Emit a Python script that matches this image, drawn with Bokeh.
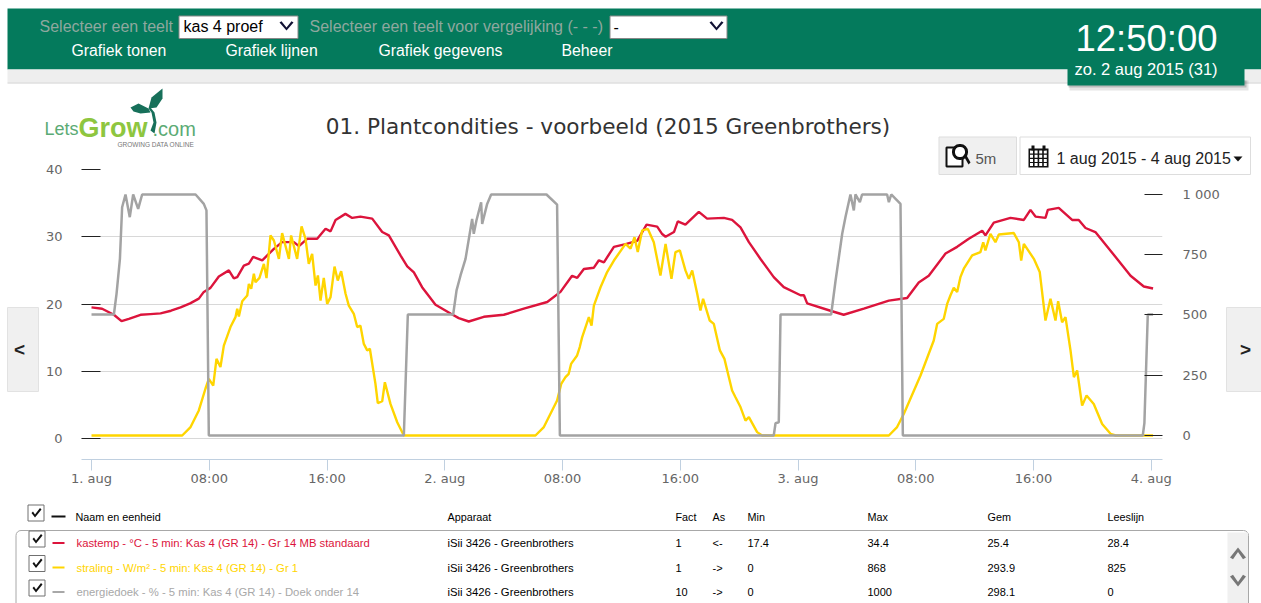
from bokeh.plotting import figure
from bokeh.embed import file_html
from bokeh.resources import INLINE
from bokeh.models import (Range1d, LinearAxis, FixedTicker, Label, BoxAnnotation,
                          PolyAnnotation, Grid)

# ---------- data: hours since 1 aug 00:00, and values ----------
temp_h = [0,0.72,1.52,2.04,2.54,3.33,4.0,4.69,5.4,6.05,6.7,7.29,7.63,8.08,8.65,9.33,9.67,9.9,10.35,10.69,10.98,11.6,12.39,12.95,13.75,14.09,14.65,15.33,15.9,16.24,16.58,17.25,17.71,18.27,19.07,19.75,20.2,21.0,21.45,21.9,22.46,23.37,24.39,24.95,25.63,26.65,28.01,29.37,30.96,31.86,32.65,33.0,33.45,34.13,34.47,34.81,35.49,36.28,37.07,37.71,38.43,38.77,39.0,39.57,39.83,40.35,41.26,41.82,42.96,43.52,44.09,44.66,45.45,46.35,47.03,48.17,48.4,48.62,50.2,51.1,52.47,54.17,55.41,56.2,56.88,58.02,58.81,59.6,60.51,60.73,61.3,62.43,63.34,63.79,64.13,64.81,64.97,65.71,66.62,67.07,67.53,68.2,69.68,70.59,71.49,72.12]
temp_v = [19.5,19.3,18.4,17.45,17.8,18.4,18.5,18.6,19.0,19.5,20.1,20.8,21.8,22.4,24.1,25.0,23.8,24.0,25.7,26.0,27.0,26.5,28.2,29.2,29.2,28.6,29.7,29.7,31.2,30.8,32.5,33.4,32.8,33.0,32.7,30.7,30.2,27.2,25.6,24.7,22.5,19.9,18.6,17.9,17.4,18.1,18.4,19.3,20.3,21.8,24.2,23.9,25.2,25.4,26.5,26.2,28.5,28.9,29.4,31.8,31.5,30.4,30.0,30.7,32.3,31.8,33.7,32.7,32.8,32.5,31.4,29.2,26.7,24.0,22.5,21.3,21.3,20.1,19.0,18.4,19.3,20.5,20.9,23.2,24.2,27.5,28.5,29.7,30.9,30.2,32.1,32.8,32.5,34.0,33.0,32.8,34.0,34.3,32.5,32.5,31.3,30.7,26.7,24.2,22.6,22.3]

rad_h = [0,6.16,6.73,7.29,7.74,7.97,8.27,8.49,8.76,8.99,9.44,9.78,9.9,10.01,10.24,10.58,10.69,10.85,11.03,11.14,11.41,11.71,11.89,12.16,12.39,12.73,12.95,13.41,13.56,13.97,14.27,14.54,14.76,14.99,15.22,15.38,15.56,15.78,16.01,16.24,16.51,16.73,16.96,17.26,17.48,17.82,18.05,18.27,18.5,18.73,18.91,19.29,19.45,19.75,19.93,20.31,20.77,21.22,25.07,30.16,30.73,31.63,31.91,32.2,32.42,32.58,32.99,33.17,33.33,33.79,33.97,34.13,34.58,35.03,35.49,36.28,36.62,36.89,37.11,37.41,37.8,38.2,38.65,39.0,39.4,39.67,39.97,40.35,40.58,40.81,41.15,41.37,41.55,42.0,42.28,42.69,43.0,43.3,43.52,43.75,44.09,44.43,44.66,45.22,45.56,50.88,54.17,54.73,55.19,56.32,57.22,57.45,57.9,58.13,58.35,58.58,58.81,59.03,59.26,59.83,60.39,60.58,60.73,61.07,61.41,61.64,62.66,63.0,63.16,63.34,64.02,64.42,64.81,65.15,65.49,65.67,65.94,66.17,66.51,66.74,66.96,67.3,67.6,68.09,68.66,69.23,69.57,72.12]
rad_v = [0,0,35,104,194,235,207,318,284,373,450,491,526,494,557,581,629,609,671,636,654,712,653,830,809,733,840,733,830,733,868,816,712,754,622,664,560,654,546,574,701,643,682,588,539,505,450,456,380,353,360,214,134,142,221,131,55,0,0,0,35,145,214,242,256,297,332,367,407,491,456,539,615,678,726,795,775,823,761,851,857,802,664,795,650,761,768,685,650,685,588,519,567,477,463,353,318,242,187,159,118,62,76,14,0,0,0,35,90,249,394,463,484,546,581,613,595,657,692,747,761,802,768,837,802,834,840,802,726,795,733,678,477,567,477,557,470,491,353,242,270,124,166,131,48,7,0,0]

cloth_h = [0,1.52,1.7,1.93,2.08,2.31,2.6,2.83,3.17,3.44,7.07,7.63,7.81,7.97,21.22,21.49,24.57,24.8,25.07,25.41,25.86,25.97,26.15,26.47,26.54,26.77,26.88,27.15,30.91,31.63,31.82,46.35,46.47,46.69,46.81,50.25,50.55,51.0,51.22,51.56,51.79,51.9,52.2,52.35,54.05,54.17,54.33,54.96,55.12,71.42,71.53,71.76,72.12]
cloth_v = [502,502,588,733,947,1000,906,1000,940,1000,1000,961,934,0,0,502,502,602,664,733,899,837,892,968,878,934,961,1000,1000,958,0,0,51,55,502,502,643,837,906,1000,934,1000,968,1000,1000,968,1000,961,0,0,51,502,502]

left_ticks = [0, 10, 20, 30, 40]
right_ticks = [0, 250, 500, 750, 1000]
right_labels = {1000: "1 000"}
x_ticks = [0, 8, 16, 24, 32, 40, 48, 56, 64, 72]
x_labels = ["1. aug", "08:00", "16:00", "2. aug", "08:00", "16:00", "3. aug", "08:00", "16:00", "4. aug"]

title_text = "01. Plantcondities - voorbeeld (2015 Greenbrothers)"
menu_items = ["Grafiek tonen", "Grafiek lijnen", "Grafiek gegevens", "Beheer"]
table_head = ["Naam en eenheid", "Apparaat", "Fact", "As", "Min", "Max", "Gem", "Leeslijn"]
table_rows = [
    ["kastemp - °C - 5 min: Kas 4 (GR 14) - Gr 14 MB standaard", "iSii 3426 - Greenbrothers", "1", "<-", "17.4", "34.4", "25.4", "28.4"],
    ["straling - W/m² - 5 min: Kas 4 (GR 14) - Gr 1", "iSii 3426 - Greenbrothers", "1", "->", "0", "868", "293.9", "825"],
    ["energiedoek - % - 5 min: Kas 4 (GR 14) - Doek onder 14", "iSii 3426 - Greenbrothers", "10", "->", "0", "1000", "298.1", "0"],
]

RED, YEL, GRY = "#dc143c", "#ffd500", "#a3a3a3"
GREEN = "#047a5c"
W, H = 1261, 603

p = figure(width=W, height=H, output_backend="svg", toolbar_location=None,
           x_range=Range1d(-0.68, 72.76), y_range=Range1d(-3.12, 40),
           min_border_left=81, min_border_right=99, min_border_top=169, min_border_bottom=144,
           x_axis_location=None, y_axis_location=None)
p.outline_line_color = None
p.background_fill_color = "white"
p.grid.visible = False
p.extra_y_ranges = {"right": Range1d(-99.6, 1103.7)}

ax_style = dict(major_label_text_font="DejaVu Sans", major_label_text_font_size="13px",
                major_label_text_color="#666666", minor_tick_line_color=None)
yl = LinearAxis(ticker=FixedTicker(ticks=left_ticks), axis_line_color=None, major_tick_line_color="#222222",
                major_tick_in=19, major_tick_out=0, major_label_standoff=19, **ax_style)
p.add_layout(yl, "left")
yr = LinearAxis(y_range_name="right", ticker=FixedTicker(ticks=right_ticks), axis_line_color=None,
                major_tick_line_color="#222222", major_tick_in=18, major_tick_out=0, major_label_standoff=20,
                major_label_overrides=right_labels, **ax_style)
p.add_layout(yr, "right")
xb = LinearAxis(ticker=FixedTicker(ticks=x_ticks), axis_line_color="#c0d0e0", major_tick_line_color="#c0d0e0",
                major_tick_in=0, major_tick_out=11, major_label_standoff=0,
                major_label_overrides=dict(zip(x_ticks, x_labels)), **ax_style)
p.add_layout(xb, "below")
p.add_layout(Grid(dimension=1, ticker=FixedTicker(ticks=left_ticks), grid_line_color="#d8d8d8"))

p.line(temp_h, temp_v, line_color=RED, line_width=2.4)
p.line(rad_h, rad_v, line_color=YEL, line_width=2.4, y_range_name="right")
p.line(cloth_h, cloth_v, line_color=GRY, line_width=2.5, y_range_name="right")

# ---------- page furniture on a transparent overlay figure ----------
c = figure(width=W, height=H, output_backend="svg", toolbar_location=None,
           x_range=Range1d(0, W), y_range=Range1d(H, 0),
           min_border=0, x_axis_location=None, y_axis_location=None,
           background_fill_color=None, border_fill_color=None,
           styles={"position": "absolute", "top": "0", "left": "0"})
c.outline_line_color = None
c.grid.visible = False

def box(x0, y0, x1, y1, fill=None, line=None, lw=1, alpha=1.0, radius=0):
    c.add_layout(BoxAnnotation(left=x0, right=x1, top=y0, bottom=y1,
                               left_units="canvas", right_units="canvas", top_units="canvas", bottom_units="canvas",
                               fill_color=fill, fill_alpha=alpha if fill else 0,
                               line_color=line, line_width=lw, line_alpha=1 if line else 0,
                               border_radius=radius))

def poly(pts, fill="#000000", line=None):
    c.add_layout(PolyAnnotation(xs=[a for a, b in pts], ys=[b for a, b in pts],
                                xs_units="canvas", ys_units="canvas",
                                fill_color=fill, fill_alpha=1, line_color=line, line_alpha=1 if line else 0))

def txt(x, y, s, size, color="#000000", font="Liberation Sans", style="normal", align="left"):
    c.add_layout(Label(x=x, y=y, x_units="canvas", y_units="canvas", text=s,
                       text_font=font, text_font_size=f"{size}px", text_color=color,
                       text_font_style=style, text_align=align, text_baseline="middle"))

def chevron(cx, cy, w, h, t, color, up=False):
    d = -1 if up else 1
    poly([(cx-w, cy-d*h), (cx-w+t, cy-d*h-d*t*0.6), (cx, cy+d*h-d*t*1.5), (cx+w-t, cy-d*h-d*t*0.6),
          (cx+w, cy-d*h), (cx, cy+d*h)], fill=color)

def check(x, y):
    box(x, y, x+16, y+16, "#ffffff", "#707070", 1)
    poly([(x+3.5, y+8), (x+5, y+6.5), (x+7, y+9.5), (x+12, y+3), (x+13.5, y+4.5), (x+7, y+12.5)], fill="#111111")

# top bar
box(7, 8, 1261, 69, GREEN)
box(7, 69, 1261, 82, "#eeeeee")
box(7, 82, 1261, 83, "#cfcfcf")
txt(39, 26, "Selecteer een teelt", 16, "#8fa89f")
box(178.5, 15.5, 297.5, 38, "#ffffff", "#888888")
txt(183, 26, "kas 4 proef", 16)
chevron(286, 26, 7, 4, 2, "#111133")
txt(309, 26, "Selecteer een teelt voor vergelijking (- - -)", 16, "#8fa89f")
box(609.5, 15.5, 726.5, 38, "#ffffff", "#888888")
txt(613, 26, "-", 16)
chevron(716, 26, 7, 4, 2, "#111133")
for mx, item in zip([71, 225, 378, 561], menu_items):
    txt(mx, 50, item, 15.8, "#ffffff")

# clock
box(1069, 80, 1248, 90, "#000000", alpha=0.10)
box(1068, 80, 1246, 87, "#000000", alpha=0.18)
box(1067, 16, 1244, 85, GREEN)
txt(1075, 38, "12:50:00", 36.5, "#ffffff")
txt(1074, 68, "zo. 2 aug 2015 (31)", 16.5, "#ffffff")

# logo
poly([(148, 108), (151, 97), (162, 88), (162, 98), (156, 107)], fill="#17705a")
poly([(130, 107), (138, 103), (148, 108), (150, 112), (140, 113), (133, 111)], fill="#17705a")
poly([(148, 108), (151, 112), (153, 122), (150, 130), (154, 133), (156, 122), (154, 112), (150, 107)], fill="#17705a")
txt(44, 128, "Lets", 18, "#5bab75")
txt(78, 127, "Grow", 27, "#8ec63f", style="bold")
txt(152, 128, ".com", 20, "#5bab75")
txt(117, 144, "GROWING DATA ONLINE", 6.5, "#777777")

# title
txt(607.5, 126, title_text, 21.6, "#333333", font="DejaVu Sans", align="center")

# range buttons
box(938.5, 136.5, 1016, 174, "#f0f0f0", "#dddddd")
box(946, 147, 962, 166, "#ffffff", "#111111", 2)
box(953, 145, 966, 158, "#ffffff", "#111111", 3, radius=6)
poly([(963, 155), (965, 153), (970, 162), (968, 164)], fill="#111111")
txt(975, 158, "5m", 15, "#555555")
box(1019.5, 136.5, 1250, 174, "#ffffff", "#dddddd")
box(1028, 148, 1048, 167, "#111111")
for cx in range(4):
    for cy in range(4):
        box(1029.5+cx*4.6, 150+cy*4.2, 1032.5+cx*4.6, 153+cy*4.2, "#ffffff")
box(1031, 145, 1034, 150, "#111111")
box(1042, 145, 1045, 150, "#111111")
txt(1056, 158, "1 aug 2015 - 4 aug 2015", 16, "#222222")
poly([(1233, 156), (1242, 156), (1237.5, 161)], fill="#111111")

# paging buttons
box(7, 307, 38, 391, "#f0f0f0", "#e2e2e2")
txt(19, 349, "<", 19, "#222222", style="bold", align="center")
box(1226, 307, 1261, 391, "#f0f0f0", "#e2e2e2")
txt(1245, 349, ">", 19, "#222222", style="bold", align="center")

# legend table
col_x = [75, 447, 675, 712, 747, 867, 987, 1107]
check(27.5, 504.5)
box(51, 515, 65, 517, "#111111")
for cx, head in zip(col_x, table_head):
    txt(cx, 516, head, 10.8)
box(15.5, 530, 1248, 640, None, "#a8a8a8", 1, radius=5)
box(1227, 532, 1247.5, 603, "#f0f0f0")
chevron(1237.5, 552, 8, 5, 3, "#777777", up=True)
chevron(1237.5, 581, 8, 5, 3, "#777777")
row_y = [542.5, 567, 591.5]
row_c = [RED, YEL, "#a8a8a8"]
for ry, rc, row in zip(row_y, row_c, table_rows):
    check(28.5, ry-12)
    box(52, ry-1, 64, ry+1, rc)
    txt(76, ry, row[0], 11.3, rc)
    for cx, cell in zip(col_x[1:], row[1:]):
        txt(cx, ry, cell, 11.3 if cx == 447 else 11)

open("out.html", "w").write(file_html([p, c], INLINE))
